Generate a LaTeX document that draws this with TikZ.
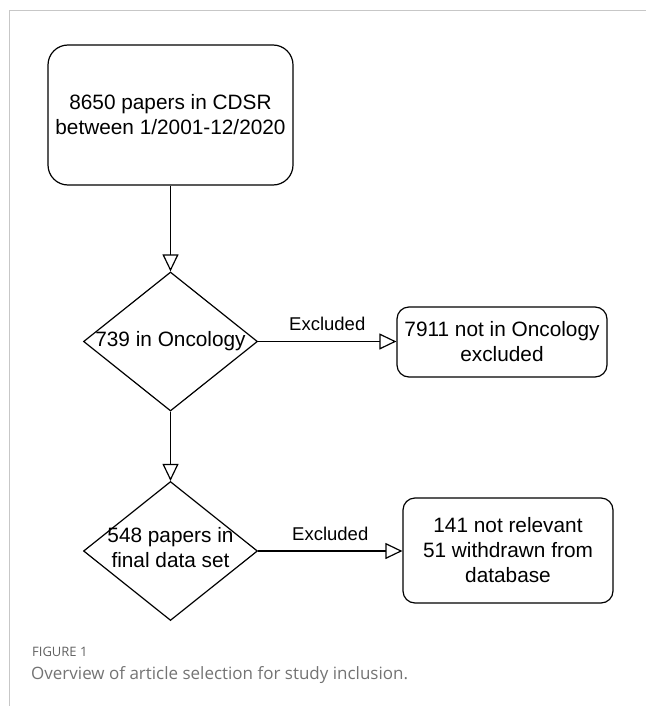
\documentclass[tikz,border=0pt]{standalone}
\usepackage{fontspec}
\setmainfont{Liberation Sans}
\newfontfamily\capfont{Open Sans}
\usetikzlibrary{shapes.geometric,arrows.meta}
\begin{document}
\begin{tikzpicture}[x=1pt,y=-1pt,
  box/.style={draw,line width=1.2pt,rounded corners=12pt,align=center,inner sep=0pt,
    font=\fontsize{20.8}{25}\selectfont},
  dia/.style={draw,diamond,line width=1.2pt,inner sep=0pt,minimum width=174pt,minimum height=139pt},
  txt/.style={font=\fontsize{20.8}{25}\selectfont,align=center,inner sep=0pt},
  conn/.style={line width=1.2pt,-{Triangle[open,length=17pt,width=16pt,line width=1.2pt]}},
  lbl/.style={font=\fontsize{18.5}{22}\selectfont,inner sep=0pt}]
\useasboundingbox (0,0) rectangle (646,706);
\draw[black!22, line width=1pt] (9,706) -- (9,11) -- (646,11);

\node[box, rounded corners=20pt, minimum width=245pt, minimum height=140pt] (b1) at (170.5,115)
  {8650 papers in CDSR\\between 1/2001-12/2020};

\node[dia] (d1) at (170.5,341.5) {};
\node[txt] (t1) at (170.5,341.5) {739 in Oncology};

\node[box, minimum width=210pt, minimum height=70pt] (b2) at (502,342)
  {7911 not in Oncology\\excluded};

\node[dia] (d2) at (170.5,551) {};
\node[txt] (t2) at (170.5,548) {548 papers in\\final data set};

\node[box, minimum width=210pt, minimum height=105pt] (b3) at (508,550.5)
  {141 not relevant\\51 withdrawn from\\database};

\draw[conn] (b1.south) -- (d1.north);
\draw[conn] (d1.south) -- (d2.north);
\draw[conn] (d1.east) -- node[lbl, above=10pt] (e1) {Excluded} (d1.east -| b2.west);
\draw[conn] (d2.east) -- node[lbl, above=10pt] (e2) {Excluded} (d2.east -| b3.west);

\node[anchor=west, text=black!62, font=\capfont\fontsize{13}{15}\selectfont, inner sep=0pt] (fig) at (32,652) {FIGURE 1};
\node[anchor=west, text=black!55, font=\capfont\fontsize{17}{20}\selectfont, inner sep=0pt] (cap) at (31,675) {Overview of article selection for study inclusion.};
\end{tikzpicture}
\end{document}
